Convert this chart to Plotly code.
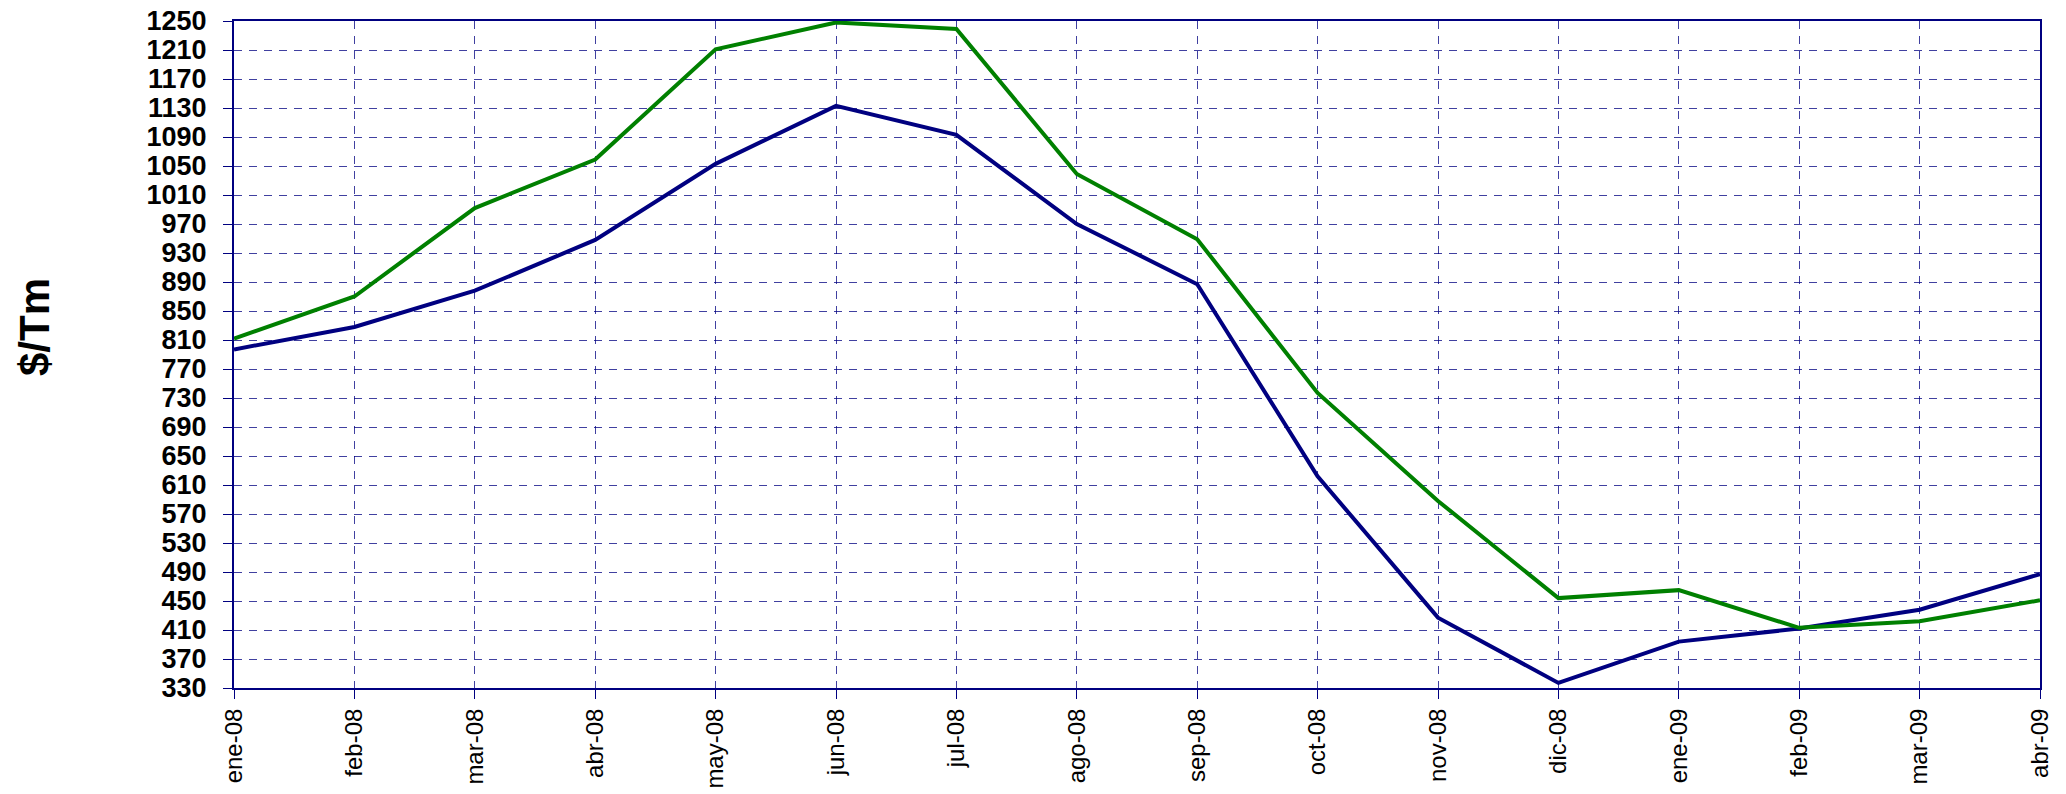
import plotly.graph_objects as go

months = ["ene-08", "feb-08", "mar-08", "abr-08", "may-08", "jun-08", "jul-08", "ago-08",
          "sep-08", "oct-08", "nov-08", "dic-08", "ene-09", "feb-09", "mar-09", "abr-09"]
blue_series = [797, 828, 878, 948, 1053, 1133, 1093, 970, 887, 622, 427, 337, 394, 412, 438, 487]
green_series = [812, 870, 992, 1059, 1211, 1248, 1239, 1039, 949, 737, 588, 454, 465, 413, 422, 451]
y_ticks = list(range(330, 1251, 40))

fig = go.Figure()
fig.add_trace(go.Scatter(x=months, y=blue_series, mode="lines",
                         line=dict(color="#000080", width=4), showlegend=False))
fig.add_trace(go.Scatter(x=months, y=green_series, mode="lines",
                         line=dict(color="#008000", width=4), showlegend=False))

grid_color = "rgba(0,0,128,0.75)"
fig.update_layout(
    width=2066, height=794,
    margin=dict(l=226, r=34, t=13, b=114),
    paper_bgcolor="white", plot_bgcolor="white",
    font=dict(family="Liberation Sans, Arial, sans-serif", color="black"),
    xaxis=dict(
        type="category", range=[0, len(months) - 1], automargin=False,
        showline=True, linecolor="#000080", linewidth=2, mirror=True,
        showgrid=True, gridcolor=grid_color, gridwidth=1, griddash="8px,7px",
        ticks="outside", ticklen=9, tickcolor="#000080", tickwidth=1,
        tickangle=-90, tickfont=dict(size=24, color="black"),
        ticklabeloverflow="allow",
        zeroline=False,
    ),
    yaxis=dict(
        range=[330, 1250], tickvals=y_ticks, ticktext=[str(v) for v in y_ticks],
        automargin=False, ticklabeloverflow="allow",
        showline=True, linecolor="#000080", linewidth=2, mirror=True,
        showgrid=True, gridcolor=grid_color, gridwidth=1, griddash="8px,7px",
        ticks="outside", ticklen=9, tickcolor="#000080", tickwidth=1,
        ticklabelstandoff=11,
        tickfont=dict(size=27, color="black", family="Liberation Sans, Arial, sans-serif", weight="bold"),
        zeroline=False,
    ),
    annotations=[dict(
        text="<b>$/Tm</b>", textangle=-90, xref="paper", yref="paper",
        x=(34 - 234) / 1806, y=(688 - 327) / 667, xanchor="center", yanchor="middle",
        showarrow=False, font=dict(size=42, color="black"),
    )],
)

fig.write_html("out.html")
